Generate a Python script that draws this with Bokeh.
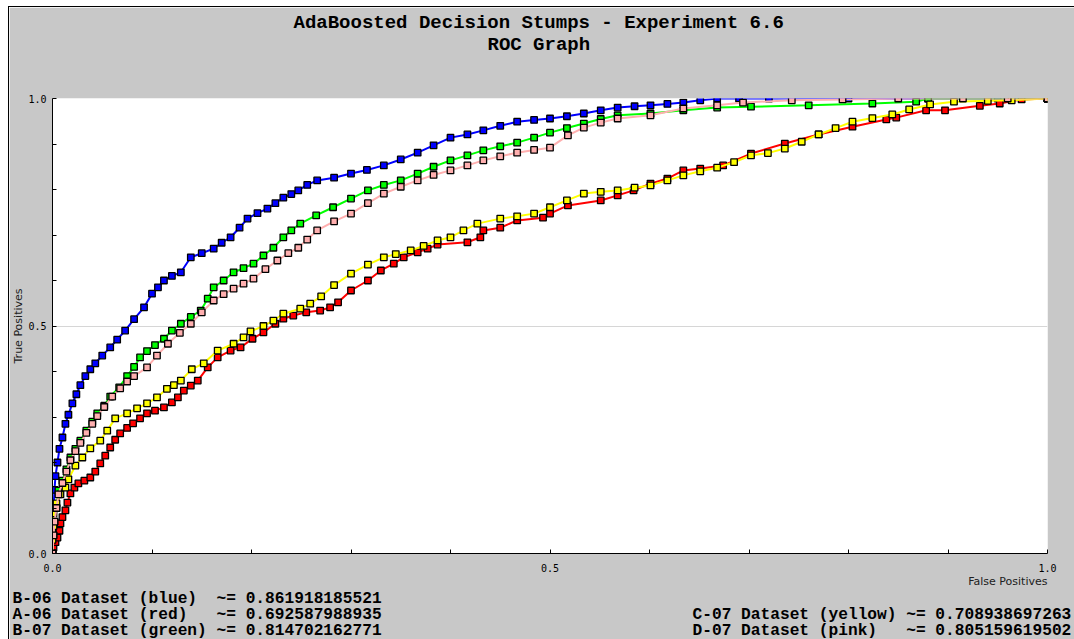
from bokeh.plotting import figure
from bokeh.models import Range1d, FixedTicker, PrintfTickFormatter, Title
from bokeh.embed import file_html
from bokeh.resources import INLINE

TITLE = "AdaBoosted Decision Stumps - Experiment 6.6"
SUBTITLE = "ROC Graph"
X_LABEL = "False Positives"
Y_LABEL = "True Positives"

X_TICKS = [0.0, 0.5, 1.0]
Y_TICKS = [0.0, 0.5, 1.0]
MINOR_TICKS = [0.1, 0.2, 0.3, 0.4, 0.6, 0.7, 0.8, 0.9]
GRID_TICKS = [0.5]

# ---- series data (false positive rate, true positive rate) ----
b06_fpr = [0.000, 0.000, 0.001, 0.002, 0.003,
           0.005, 0.007, 0.010, 0.013, 0.016,
           0.020, 0.024, 0.028, 0.033, 0.038,
           0.043, 0.050, 0.058, 0.065, 0.073,
           0.082, 0.092, 0.100, 0.106, 0.112,
           0.120, 0.129, 0.139, 0.150, 0.162,
           0.170, 0.179, 0.188, 0.196, 0.206,
           0.216, 0.224, 0.232, 0.240, 0.247,
           0.256, 0.266, 0.283, 0.300, 0.316,
           0.333, 0.350, 0.367, 0.383, 0.400,
           0.417, 0.433, 0.450, 0.467, 0.484,
           0.500, 0.517, 0.534, 0.551, 0.568,
           0.585, 0.601, 0.618, 0.634, 0.651,
           0.668, 0.690, 0.720, 0.800, 0.880,
           0.950, 1.000]
b06_tpr = [0.000, 0.050, 0.100, 0.140, 0.170,
           0.200, 0.230, 0.255, 0.285, 0.305,
           0.330, 0.350, 0.370, 0.390, 0.405,
           0.418, 0.435, 0.453, 0.470, 0.490,
           0.515, 0.541, 0.571, 0.585, 0.600,
           0.610, 0.618, 0.651, 0.660, 0.670,
           0.683, 0.695, 0.716, 0.736, 0.748,
           0.758, 0.770, 0.782, 0.790, 0.798,
           0.810, 0.820, 0.826, 0.835, 0.843,
           0.853, 0.866, 0.881, 0.897, 0.914,
           0.921, 0.930, 0.940, 0.949, 0.953,
           0.956, 0.961, 0.967, 0.974, 0.980,
           0.983, 0.985, 0.988, 0.991, 0.996,
           1.000, 1.000, 1.000, 1.000, 1.000,
           1.000, 1.000]

a06_fpr = [0.000, 0.001, 0.003, 0.005, 0.007,
           0.008, 0.010, 0.013, 0.015, 0.018,
           0.022, 0.026, 0.032, 0.038, 0.043,
           0.048, 0.053, 0.058, 0.063, 0.068,
           0.075, 0.081, 0.088, 0.095, 0.103,
           0.112, 0.120, 0.126, 0.132, 0.139,
           0.146, 0.156, 0.166, 0.179, 0.189,
           0.201, 0.212, 0.224, 0.232, 0.242,
           0.255, 0.269, 0.279, 0.287, 0.300,
           0.317, 0.330, 0.343, 0.353, 0.367,
           0.377, 0.387, 0.417, 0.430, 0.433,
           0.450, 0.467, 0.493, 0.500, 0.518,
           0.551, 0.568, 0.584, 0.601, 0.618,
           0.634, 0.651, 0.674, 0.702, 0.736,
           0.770, 0.804, 0.838, 0.848, 0.878,
           0.897, 0.932, 0.952, 0.974, 1.000]
a06_tpr = [0.000, 0.013, 0.025, 0.035, 0.050,
           0.066, 0.080, 0.095, 0.112, 0.132,
           0.145, 0.154, 0.160, 0.167, 0.180,
           0.198, 0.215, 0.233, 0.250, 0.264,
           0.276, 0.286, 0.297, 0.308, 0.314,
           0.321, 0.332, 0.343, 0.358, 0.369,
           0.380, 0.409, 0.431, 0.446, 0.453,
           0.472, 0.486, 0.505, 0.516, 0.523,
           0.530, 0.534, 0.541, 0.552, 0.578,
           0.600, 0.622, 0.637, 0.651, 0.662,
           0.670, 0.679, 0.684, 0.695, 0.710,
           0.716, 0.732, 0.738, 0.747, 0.765,
           0.776, 0.787, 0.798, 0.813, 0.824,
           0.842, 0.846, 0.853, 0.879, 0.901,
           0.921, 0.938, 0.954, 0.958, 0.974,
           0.974, 0.984, 0.989, 0.998, 1.000]

b07_fpr = [0.000, 0.001, 0.002, 0.004, 0.006,
           0.010, 0.014, 0.018, 0.023, 0.028,
           0.034, 0.040, 0.045, 0.052, 0.058,
           0.067, 0.075, 0.082, 0.088, 0.095,
           0.103, 0.112, 0.120, 0.129, 0.139,
           0.149, 0.156, 0.162, 0.172, 0.182,
           0.192, 0.202, 0.212, 0.222, 0.232,
           0.240, 0.249, 0.265, 0.282, 0.300,
           0.317, 0.333, 0.350, 0.367, 0.383,
           0.400, 0.417, 0.433, 0.450, 0.467,
           0.484, 0.500, 0.517, 0.534, 0.551,
           0.568, 0.601, 0.634, 0.668, 0.702,
           0.760, 0.824, 0.868, 0.880, 1.000]
b07_tpr = [0.000, 0.040, 0.070, 0.100, 0.138,
           0.160, 0.185, 0.211, 0.230, 0.248,
           0.270, 0.290, 0.308, 0.325, 0.345,
           0.365, 0.390, 0.410, 0.431, 0.445,
           0.458, 0.472, 0.490, 0.505, 0.520,
           0.534, 0.560, 0.585, 0.600, 0.618,
           0.627, 0.637, 0.655, 0.672, 0.695,
           0.710, 0.725, 0.743, 0.761, 0.780,
           0.798, 0.810, 0.820, 0.835, 0.850,
           0.864, 0.875, 0.886, 0.895, 0.903,
           0.914, 0.925, 0.935, 0.945, 0.955,
           0.963, 0.967, 0.974, 0.980, 0.982,
           0.985, 0.989, 0.993, 1.000, 1.000]

c07_fpr = [0.000, 0.000, 0.001, 0.001, 0.004,
           0.008, 0.013, 0.016, 0.023, 0.030,
           0.038, 0.048, 0.055, 0.063, 0.075,
           0.085, 0.095, 0.105, 0.115, 0.122,
           0.129, 0.140, 0.152, 0.166, 0.182,
           0.192, 0.199, 0.212, 0.222, 0.232,
           0.249, 0.259, 0.270, 0.283, 0.300,
           0.317, 0.333, 0.345, 0.360, 0.373,
           0.387, 0.400, 0.413, 0.427, 0.450,
           0.467, 0.484, 0.500, 0.517, 0.534,
           0.551, 0.568, 0.585, 0.601, 0.618,
           0.634, 0.651, 0.668, 0.685, 0.702,
           0.719, 0.736, 0.753, 0.770, 0.787,
           0.804, 0.824, 0.844, 0.861, 0.882,
           0.906, 0.940, 0.964, 1.000]
c07_tpr = [0.000, 0.030, 0.060, 0.088, 0.110,
           0.130, 0.145, 0.163, 0.193, 0.211,
           0.231, 0.248, 0.270, 0.297, 0.308,
           0.319, 0.330, 0.343, 0.362, 0.370,
           0.380, 0.405, 0.418, 0.446, 0.461,
           0.475, 0.488, 0.500, 0.512, 0.527,
           0.538, 0.549, 0.565, 0.590, 0.615,
           0.635, 0.651, 0.658, 0.666, 0.676,
           0.688, 0.695, 0.710, 0.725, 0.736,
           0.741, 0.747, 0.761, 0.776, 0.791,
           0.795, 0.798, 0.804, 0.809, 0.820,
           0.831, 0.840, 0.848, 0.860, 0.875,
           0.880, 0.890, 0.905, 0.921, 0.935,
           0.949, 0.957, 0.965, 0.976, 0.987,
           0.993, 0.995, 0.996, 1.000]

d07_fpr = [0.000, 0.001, 0.002, 0.004, 0.006,
           0.010, 0.014, 0.018, 0.023, 0.028,
           0.034, 0.040, 0.045, 0.052, 0.060,
           0.068, 0.075, 0.082, 0.095, 0.105,
           0.116, 0.128, 0.139, 0.150, 0.162,
           0.172, 0.182, 0.192, 0.202, 0.214,
           0.226, 0.237, 0.247, 0.256, 0.266,
           0.283, 0.300, 0.317, 0.333, 0.350,
           0.367, 0.383, 0.400, 0.417, 0.433,
           0.450, 0.467, 0.484, 0.500, 0.518,
           0.534, 0.551, 0.568, 0.601, 0.634,
           0.668, 0.694, 0.743, 0.794, 0.850,
           0.915, 0.960, 1.000]
d07_tpr = [0.000, 0.040, 0.070, 0.100, 0.130,
           0.155, 0.180, 0.205, 0.225, 0.243,
           0.265, 0.285, 0.302, 0.322, 0.345,
           0.363, 0.378, 0.390, 0.409, 0.435,
           0.461, 0.485, 0.505, 0.530, 0.556,
           0.570, 0.582, 0.593, 0.604, 0.625,
           0.644, 0.660, 0.672, 0.690, 0.710,
           0.730, 0.747, 0.770, 0.791, 0.806,
           0.820, 0.832, 0.842, 0.853, 0.864,
           0.873, 0.881, 0.887, 0.892, 0.919,
           0.936, 0.947, 0.956, 0.963, 0.978,
           0.985, 0.991, 0.996, 0.998, 1.000,
           1.000, 1.000, 1.000]

series_names = ["B-06 Dataset (blue)", "A-06 Dataset (red)", "B-07 Dataset (green)",
                "C-07 Dataset (yellow)", "D-07 Dataset (pink)"]
series_auc = ["0.861918185521", "0.692587988935", "0.814702162771",
              "0.708938697263", "0.805159619502"]
series_colors = ["#0000ff", "#ff0000", "#00ff00", "#ffff00", "#ffafaf"]
series_data = [(b06_fpr, b06_tpr), (a06_fpr, a06_tpr), (b07_fpr, b07_tpr),
               (c07_fpr, c07_tpr), (d07_fpr, d07_tpr)]

GRAY = "#c8c8c8"
MONO = "Liberation Mono"
NB = "\u00a0"

p = figure(width=1065, height=640, output_backend="svg", toolbar_location=None,
           x_range=Range1d(0, 1), y_range=Range1d(0, 1),
           min_border_left=43, min_border_right=27, min_border_top=91, min_border_bottom=94)
p.margin = (7, 0, 0, 9)
p.styles = {"outline": "1px solid black"}
p.border_fill_color = GRAY
p.background_fill_color = "white"
p.outline_line_color = None

for ax, ticks, standoff in ((p.xaxis, X_TICKS, 10), (p.yaxis, Y_TICKS, 6)):
    ax.ticker = FixedTicker(ticks=ticks, minor_ticks=MINOR_TICKS)
    ax.formatter = PrintfTickFormatter(format="%.1f")
    ax.major_tick_in = 4
    ax.major_tick_out = 0
    ax.minor_tick_in = 4
    ax.minor_tick_out = 0
    ax.axis_line_color = "black"
    ax.major_tick_line_color = "black"
    ax.minor_tick_line_color = "black"
    ax.major_label_text_font = "DejaVu Sans Mono"
    ax.major_label_text_font_size = "10px"
    ax.major_label_text_color = "black"
    ax.major_label_standoff = standoff

p.yaxis.axis_label = Y_LABEL
p.yaxis.axis_label_text_font = "DejaVu Sans"
p.yaxis.axis_label_text_font_style = "normal"
p.yaxis.axis_label_text_font_size = "11px"
p.yaxis.axis_label_text_color = "#202020"
p.yaxis.axis_label_standoff = 0

p.xgrid.visible = False
p.ygrid.ticker = FixedTicker(ticks=GRID_TICKS)
p.ygrid.grid_line_color = "#d6d6d6"

for (fx, ty), col in zip(series_data, series_colors):
    p.line(fx, ty, line_color=col, line_width=2)
    p.scatter(fx, ty, marker="square", size=6.5, fill_color=col,
              line_color="black", line_width=1.3)

# ---- titles above the frame (inner -> outer) ----
p.add_layout(Title(text=NB, text_font_size="1px", standoff=38), "above")
p.add_layout(Title(text=SUBTITLE, align="left", offset=435, vertical_align="top",
                   standoff=0, text_font=MONO, text_font_style="bold",
                   text_font_size="19px", text_color="black"), "above")
p.add_layout(Title(text=TITLE, align="left", offset=241, vertical_align="bottom",
                   standoff=0, text_font=MONO, text_font_style="bold",
                   text_font_size="19px", text_color="black"), "above")

# ---- below the x axis: axis title, then AUC values ----
p.add_layout(Title(text=X_LABEL, align="right", offset=0, vertical_align="top",
                   standoff=0, text_font="DejaVu Sans", text_font_style="normal",
                   text_font_size="11px", text_color="#202020"), "below")


def entry(i, width):
    name = series_names[i]
    return name + NB * (width - len(name)) + " ~= " + series_auc[i]


left_col = [entry(i, 20) for i in range(3)]
right_col = [""] + [entry(i, 21) for i in range(3, 5)]
rows = []
for lt, rt in zip(left_col, right_col):
    rows.append(lt + (NB * (70 - len(lt)) + rt if rt else ""))

p.add_layout(Title(text="\n".join(rows), align="left", offset=-40, vertical_align="top",
                   standoff=0, text_font=MONO, text_font_style="bold",
                   text_font_size="16.2px", text_line_height=0.9,
                   text_color="black"), "below")

open("out.html", "w").write(file_html(p, INLINE))
